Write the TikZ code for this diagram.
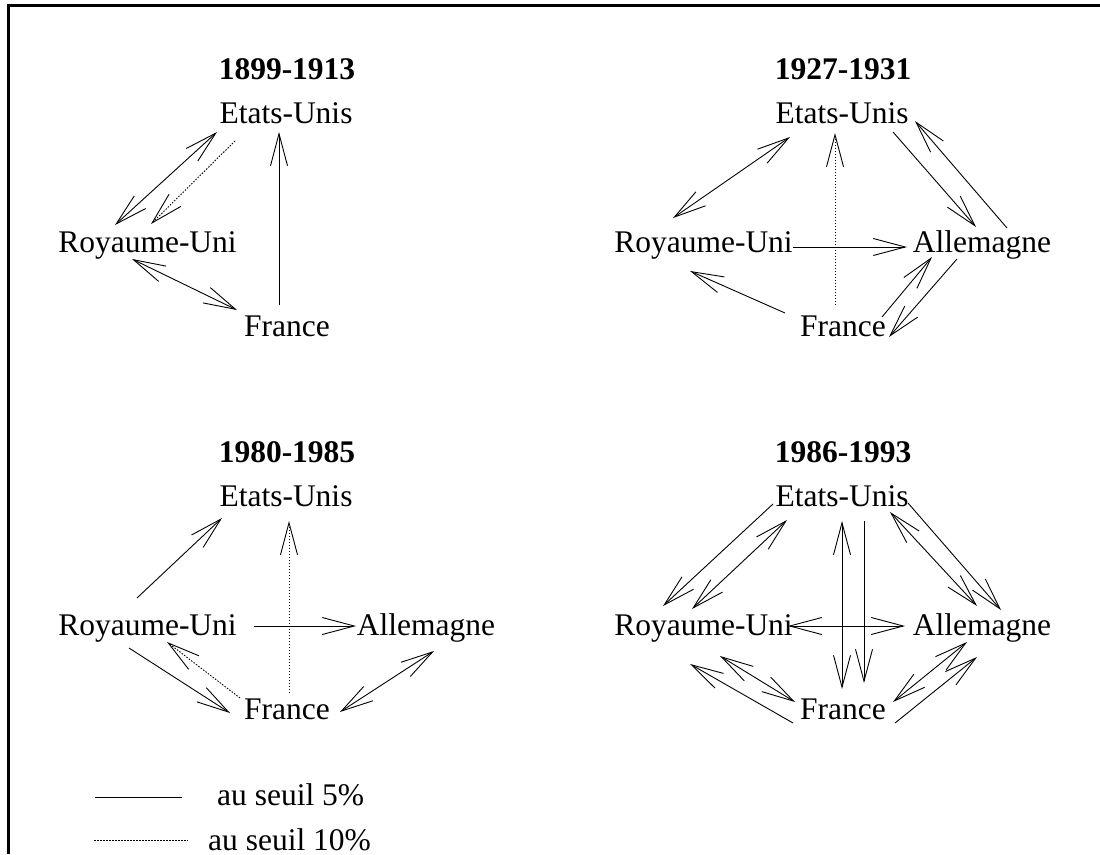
\documentclass[tikz,border=0pt]{standalone}
\usepackage{fontspec}
\setmainfont{Liberation Serif}
\usetikzlibrary{positioning, calc, arrows.meta}

\begin{document}
\begin{tikzpicture}[
        x=1pt, y=-1pt,
        country/.style={inner sep=0pt, text height=21pt, text depth=5pt, font=\fontsize{31.5}{36}\selectfont},
        period/.style={country, font=\fontsize{31.5}{36}\selectfont\bfseries},
        legend/.style={country, text depth=0pt, anchor=base west},
        arrow/.style={-{Straight Barb[length=32pt, width=17pt]}, line width=0.9pt},
        twoway/.style={{Straight Barb[length=32pt, width=17pt]}-{Straight Barb[length=32pt, width=17pt]}, line width=0.9pt},
        weak/.style={dash pattern=on 1.5pt off 1.5pt}
    ]
        \useasboundingbox (0,0) rectangle (1100,854);
        \draw[line width=3pt] (1100,5.5) -- (8.5,5.5) -- (8.5,854);

        % 1899-1913
        \begin{scope}
            \node[period] (t1) at (287,71) {1899-1913};
            \node[country] (eu1) at (286,115.5) {Etats-Unis};
            \node[country] (ru1) at (147.5,244) {Royaume-Uni};
            \node[country] (fr1) at (287,328) {France};

            \draw[twoway] ($(eu1)+(-69,16.5)$) -- ($(ru1)+(-32.5,-19)$);
            \draw[arrow, weak] ($(eu1)+(-51,25.5)$) -- ($(ru1)+(3.5,-20)$);
            \draw[twoway] ($(ru1)+(-15.5,15)$) -- ($(fr1)+(-50,-18)$);
            \draw[arrow] ($(fr1)+(-8,-23)$) -- ($(eu1)+(-7,16.5)$);
        \end{scope}

        % 1927-1931
        \begin{scope}[shift={(556,0)}]
            \node[period] (t2) at (287,71) {1927-1931};
            \node[country] (eu2) at (286,115.5) {Etats-Unis};
            \node[country] (ru2) at (147.5,244) {Royaume-Uni};
            \node[country] (de2) at (426,244) {Allemagne};
            \node[country] (fr2) at (287,328) {France};

            \draw[twoway] ($(eu2)+(-52,21.5)$) -- ($(ru2)+(-30.5,-26)$);
            \draw[arrow] ($(ru2)+(89.5,3)$) -- ($(de2)+(-75,3)$);
            \draw[arrow, weak] ($(fr2)+(-8,-23)$) -- ($(eu2)+(-7,17.5)$);
            \draw[arrow] ($(fr2)+(-58,-15)$) -- ($(ru2)+(-13.5,27)$);
            \draw[arrow] ($(eu2)+(51,16.5)$) -- ($(de2)+(-6,-17)$);
            \draw[arrow] ($(de2)+(25,-16)$) -- ($(eu2)+(73,5.5)$);
            \draw[arrow] ($(fr2)+(39,-11)$) -- ($(de2)+(-50,13)$);
            \draw[arrow] ($(de2)+(-25,15)$) -- ($(fr2)+(46,9)$);
        \end{scope}

        % 1980-1985
        \begin{scope}[shift={(0,383)}]
            \node[period] (t3) at (287,71) {1980-1985};
            \node[country] (eu3) at (286,115.5) {Etats-Unis};
            \node[country] (ru3) at (147.5,244) {Royaume-Uni};
            \node[country] (de3) at (426,244) {Allemagne};
            \node[country] (fr3) at (287,328) {France};

            \draw[arrow] ($(ru3)+(-10.5,-29)$) -- ($(eu3)+(-64,19.5)$);
            \draw[arrow, weak] ($(fr3)+(2,-18)$) -- ($(eu3)+(3,22.5)$);
            \draw[arrow] ($(ru3)+(106.5,-1)$) -- ($(de3)+(-70,-1)$);
            \draw[arrow] ($(ru3)+(-18.5,21)$) -- ($(fr3)+(-57,2)$);
            \draw[arrow, weak] ($(fr3)+(-47,-13)$) -- ($(ru3)+(19.5,15)$);
            \draw[twoway] ($(fr3)+(53,1)$) -- ($(de3)+(8,24)$);
        \end{scope}

        % 1986-1993
        \begin{scope}[shift={(556,383)}]
            \node[period] (t4) at (287,71) {1986-1993};
            \node[country] (eu4) at (286,115.5) {Etats-Unis};
            \node[country] (ru4) at (147.5,244) {Royaume-Uni};
            \node[country] (de4) at (426,244) {Allemagne};
            \node[country] (fr4) at (287,328) {France};

            \draw[arrow] ($(eu4)+(-69,5.5)$) -- ($(ru4)+(-40.5,-21)$);
            \draw[twoway] ($(ru4)+(-11.5,-18)$) -- ($(eu4)+(-55,21.5)$);
            \draw[twoway] ($(eu4)+(0,22.5)$) -- ($(fr4)+(-1,-22)$);
            \draw[arrow] ($(eu4)+(22,22.5)$) -- ($(fr4)+(21,-28)$);
            \draw[twoway] ($(ru4)+(84.5,-1)$) -- ($(de4)+(-77,-1)$);
            \draw[twoway] ($(eu4)+(48,13.5)$) -- ($(de4)+(-5,-21)$);
            \draw[arrow] ($(eu4)+(66,4.5)$) -- ($(de4)+(19,-17)$);
            \draw[twoway] ($(fr4)+(-48,-9)$) -- ($(ru4)+(16.5,29)$);
            \draw[arrow] ($(fr4)+(-50,12)$) -- ($(ru4)+(-13.5,37)$);
            \draw[twoway] ($(fr4)+(50,-9)$) -- ($(de4)+(-15,15)$);
            \draw[arrow] ($(fr4)+(52,12)$) -- ($(de4)+(-5,30)$);
        \end{scope}

        % legend
        \node[legend] (seuil5) at (217,805) {au seuil 5\%};
        \node[legend] (seuil10) at (208,850) {au seuil 10\%};
        \coordinate (s5) at (95,797);
        \coordinate (s10) at (94,840);
        \draw[line width=0.9pt] (s5) -- ($(seuil5.base west)+(-35,-8)$);
        \draw[line width=0.9pt, weak] (s10) -- ($(seuil10.base west)+(-20,-10)$);
    \end{tikzpicture}
\end{document}
